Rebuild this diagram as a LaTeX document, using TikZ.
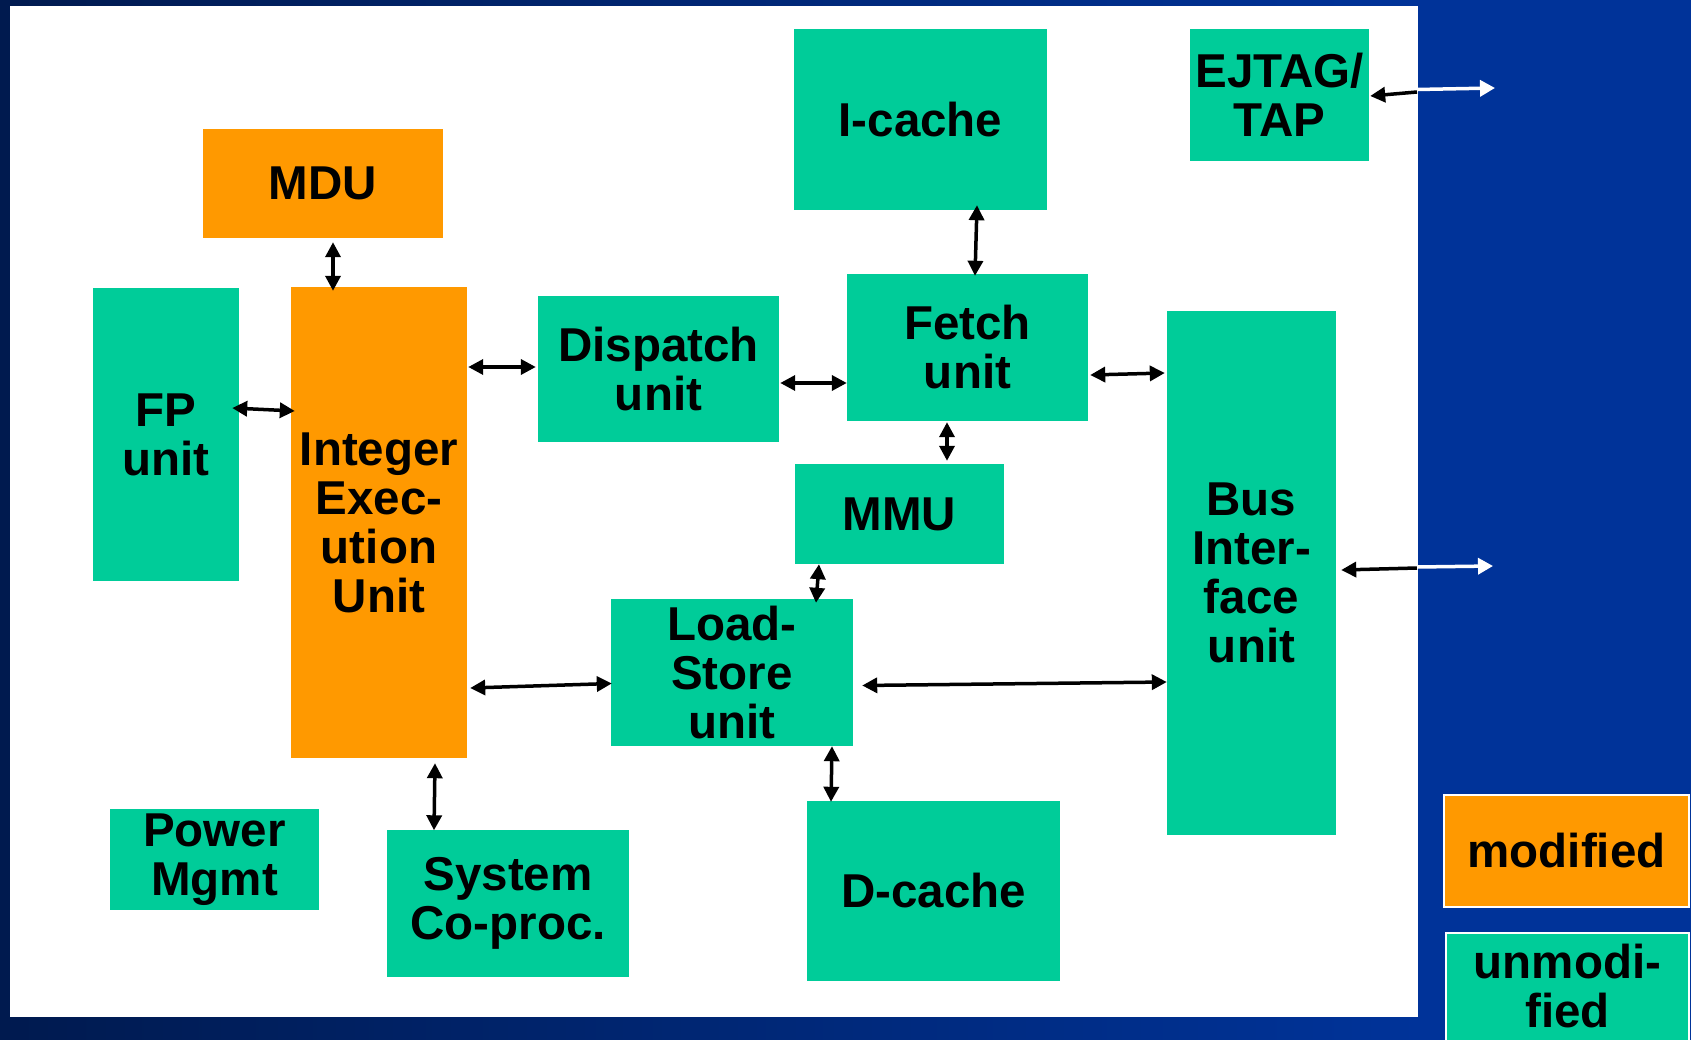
\documentclass[tikz,border=0pt]{standalone}
\usepackage{fontspec}
\setmainfont{Liberation Sans}
\usetikzlibrary{arrows.meta,calc}
\definecolor{boxgreen}{HTML}{00CC99}
\definecolor{boxorange}{HTML}{FF9900}
\definecolor{navy}{HTML}{003399}
\definecolor{navydark}{HTML}{001A4F}
\begin{document}
\begin{tikzpicture}[x=1pt,y=-1pt,
  blk/.style={rectangle, inner sep=0pt, align=center, font=\fontsize{47.5}{49}\selectfont\bfseries},
  grn/.style={blk, fill=boxgreen},
  org/.style={blk, fill=boxorange},
  biarrow/.style={line width=3.5pt, {Triangle[length=15pt,width=15pt]}-{Triangle[length=15pt,width=15pt]}},
  inarrow/.style={line width=3.5pt, -{Triangle[length=15pt,width=15pt]}},
  outarrow/.style={draw=white, line width=3.5pt, -{Triangle[length=15pt,width=16pt]}}
]
\useasboundingbox (0,0) rectangle (1691,1040);
\clip (0,0) rectangle (1691,1040);
% background
\fill[navy] (0,0) rectangle (1691,1040);
\shade[left color=navydark, right color=navy] (0,0) rectangle (1418,1040);
\fill[white] (10,6) rectangle (1418,1017);

% blocks
\node[grn, minimum width=253pt, minimum height=181pt] (icache) at (920.5,119.5) {I-cache};
\node[grn, minimum width=179pt, minimum height=132pt] (ejtag) at (1279.5,95) {EJTAG/\\TAP};
\node[org, minimum width=240pt, minimum height=109pt] (mdu) at (323,183.5) {MDU};
\node[grn, minimum width=146pt, minimum height=293pt] (fp) at (166,434.5) {FP\\unit};
\node[org, minimum width=176pt, minimum height=471pt] (int) at (379,522.5) {Integer\\Exec-\\ution\\Unit};
\node[grn, minimum width=241pt, minimum height=146pt] (disp) at (658.5,369) {Dispatch\\unit};
\node[grn, minimum width=241pt, minimum height=147pt] (fetch) at (967.5,347.5) {Fetch\\unit};
\node[grn, minimum width=209pt, minimum height=100pt] (mmu) at (899.5,514) {MMU};
\node[grn, minimum width=169pt, minimum height=524pt] (bus) at (1251.5,573) {Bus\\Inter-\\face\\unit};
\node[grn, minimum width=242pt, minimum height=147pt] (ls) at (732,672.5) {Load-\\Store\\unit};
\node[grn, minimum width=253pt, minimum height=180pt] (dcache) at (933.5,891) {D-cache};
\node[grn, minimum width=209pt, minimum height=101pt] (power) at (214.5,859.5) {Power\\Mgmt};
\node[grn, minimum width=242pt, minimum height=147pt] (sys) at (508,903) {System\\Co-proc.};

% legend
\node[org, draw=white, line width=1.5pt, minimum width=245pt, minimum height=112pt] (modified) at (1566.5,851) {modified};
\node[grn, draw=white, line width=1.5pt, minimum width=243pt, minimum height=140pt, anchor=north] (unmodbox) at (1567.5,932) {};
\node[blk, anchor=north] (unmod) at (1567.5,944) {unmodi-\\fied};

% connectors
\draw[biarrow] ($(mdu.south)+(10,4)$) -- ($(int.north)+(-46,4)$);
\draw[biarrow] ($(fp.east)+(-7,-26.5)$) -- ($(int.west)+(4,-111.5)$);
\draw[biarrow] ($(int.east)+(1,-155.5)$) -- ($(disp.west)+(-2,-2)$);
\draw[biarrow] ($(disp.east)+(1,14)$) -- ($(fetch.west)+(0,35.5)$);
\draw[biarrow] ($(icache.south)+(56.5,-5)$) -- ($(fetch.north)+(7.5,2)$);
\draw[biarrow] ($(fetch.east)+(2,27.5)$) -- ($(bus.west)+(-2,-200)$);
\draw[biarrow] ($(fetch.south)+(-20.5,1)$) -- ($(mmu.north)+(47.5,-3)$);
\draw[biarrow] ($(mmu.south)+(-80.5,0)$) -- ($(ls.north)+(84,4)$);
\draw[biarrow] ($(int.east)+(3,165.5)$) -- ($(ls.west)+(1,11)$);
\draw[biarrow] ($(ls.east)+(9,13)$) -- ($(bus.west)+(0,109)$);
\draw[biarrow] ($(ls.south)+(100,0)$) -- ($(dcache.north)+(-102.5,1)$);
\draw[biarrow] ($(int.south)+(56,5)$) -- ($(sys.north)+(-74,1)$);

% external ports
\coordinate (ejport) at (1417,92);
\coordinate (ejout) at (1495,88);
\draw[inarrow] (ejport) -- ($(ejtag.east)+(1,1)$);
\draw[outarrow] ($(ejport)+(0,-2.5)$) -- (ejout);
\coordinate (busport) at (1417,568);
\coordinate (busout) at (1493,566);
\draw[inarrow] (busport) -- ($(bus.east)+(5,-3)$);
\draw[outarrow] ($(busport)+(0,-1)$) -- (busout);
\end{tikzpicture}
\end{document}
